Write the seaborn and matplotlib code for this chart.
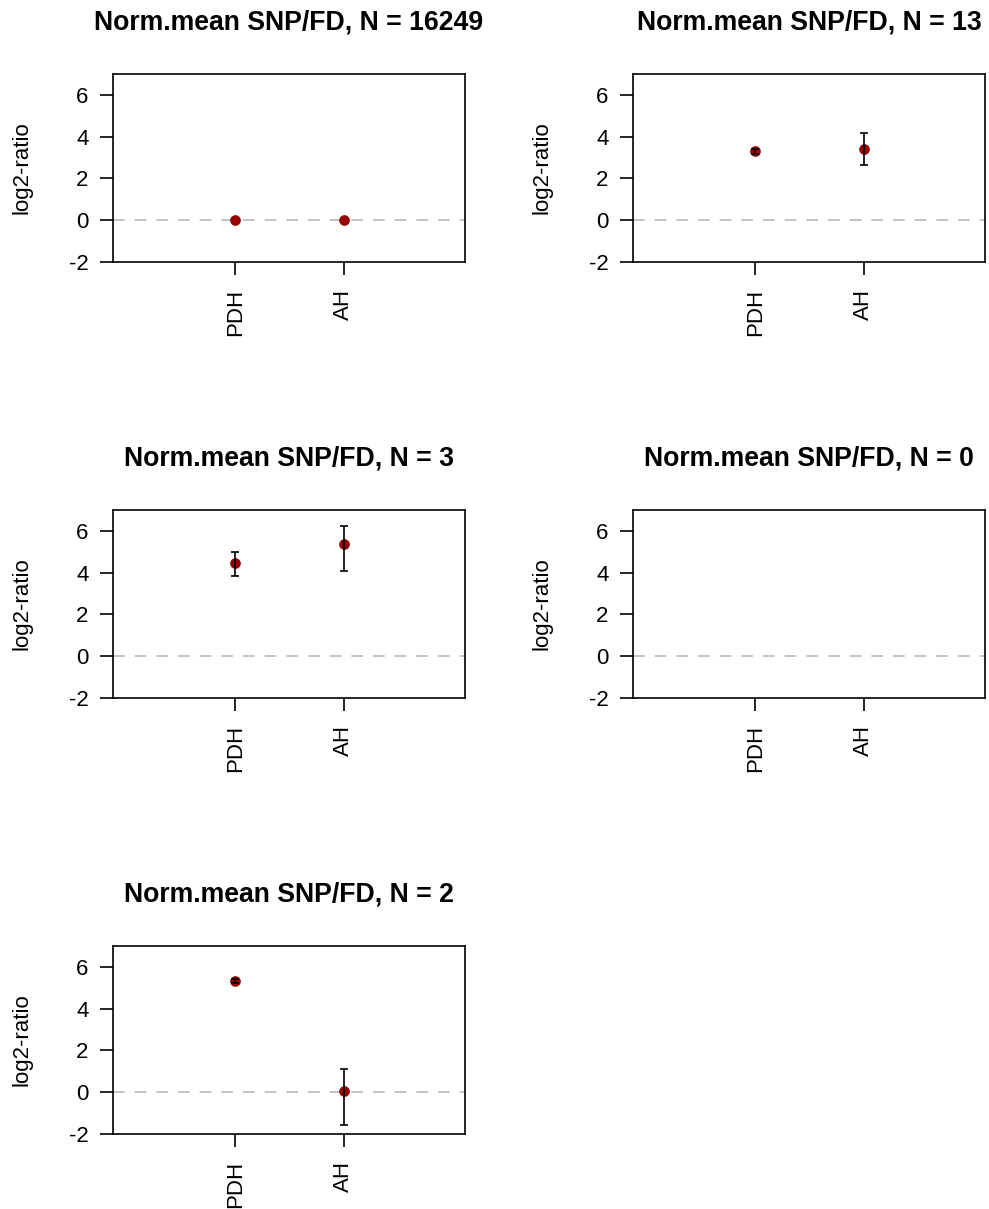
import numpy as np
import pandas as pd
import matplotlib
matplotlib.use("Agg")
import matplotlib.pyplot as plt
import seaborn as sns

# ---- data ----
categories = ["PDH", "AH"]
panel_titles = ["Norm.mean SNP/FD, N = 16249", "Norm.mean SNP/FD, N = 13",
                "Norm.mean SNP/FD, N = 3", "Norm.mean SNP/FD, N = 0",
                "Norm.mean SNP/FD, N = 2"]
# mean values per panel (None = no data)
means = [[0.0, 0.0], [3.30, 3.43], [4.45, 5.36], [None, None], [5.31, 0.08]]
err_low = [[0.0, 0.0], [0.12, 0.77], [0.62, 1.27], [None, None], [0.10, 1.63]]
err_high = [[0.0, 0.0], [0.12, 0.73], [0.55, 0.89], [None, None], [0.10, 1.02]]
y_ticks = [-2, 0, 2, 4, 6]

sns.set_style("white")
plt.rcParams['font.family'] = ['Liberation Sans', 'DejaVu Sans']
plt.rcParams['text.color'] = 'black'
plt.rcParams['axes.labelcolor'] = 'black'
plt.rcParams['xtick.color'] = 'black'
plt.rcParams['ytick.color'] = 'black'

W, H = 989, 1209
fig = plt.figure(figsize=(W / 100, H / 100), dpi=100)

col_left = [113, 633]
box_w = 352
row_top = [74, 510, 946]
box_h = 188
lw = 1.2

for i, title in enumerate(panel_titles):
    r, c = divmod(i, 2)
    ax = fig.add_axes([col_left[c] / W, 1 - (row_top[r] + box_h) / H, box_w / W, box_h / H])
    pos = np.arange(1, len(categories) + 1)
    ax.axhline(0, color="#BEBEBE", lw=1.3, dashes=(6.5, 5.5), zorder=1)
    m = means[i]
    if m[0] is not None:
        df = pd.DataFrame({"x": pos, "y": m})
        sns.scatterplot(data=df, x="x", y="y", ax=ax, color="#9b0000", s=52,
                        edgecolor="#7a0000", linewidth=0.4, zorder=3, legend=False)
        lo = np.array(err_low[i]); hi = np.array(err_high[i])
        mask = (lo + hi) > 0
        if mask.any():
            ax.errorbar(pos[mask], np.array(m)[mask], yerr=[lo[mask], hi[mask]],
                        fmt="none", ecolor="black", elinewidth=lw, capsize=3.0,
                        capthick=lw, zorder=4)
    ax.set_xlim(-0.13, 3.12)
    ax.set_ylim(-2, 7)
    ax.set_xticks(pos)
    ax.set_xticklabels(categories, rotation=90, fontsize=16)
    ax.set_yticks(y_ticks)
    ax.set_yticklabels([str(t) for t in y_ticks], fontsize=16)
    ax.tick_params(axis="both", direction="out", length=9.5, width=lw, color="black",
                   labelcolor="black", left=True, bottom=True)
    ax.tick_params(axis="x", pad=10)
    ax.tick_params(axis="y", pad=8)
    for s in ax.spines.values():
        s.set_visible(True)
        s.set_color("black")
        s.set_linewidth(lw)
    ax.set_xlabel("")
    ax.set_ylabel("log2-ratio", fontsize=16, color="black")
    ax.yaxis.set_label_coords(-0.23, 0.5)
    ax.set_title(title, fontsize=19.2, fontweight="bold", pad=32, color="black")

fig.savefig("out.png", dpi=100, facecolor="white")
